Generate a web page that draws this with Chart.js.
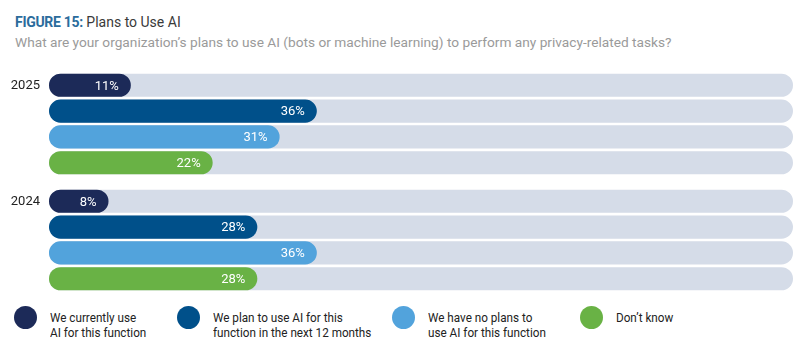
<!DOCTYPE html>
<html>
<head>
<meta charset="utf-8">
<script src="https://cdn.jsdelivr.net/npm/chart.js@4.4.1/dist/chart.umd.min.js"></script>
<style>
  html, body { margin: 0; padding: 0; background: #fff; }
  body { width: 808px; height: 363px; position: relative; overflow: hidden; font-family: Roboto, "Noto Sans", sans-serif; }
  .title { position: absolute; left: 15px; top: 15px; font-size: 14px; line-height: 14px; color: #3a3a3a; white-space: nowrap; }
  .title b { color: #2b6c9c; font-weight: 700; letter-spacing: -0.3px; }
  .sub { position: absolute; left: 15px; top: 35px; font-size: 13.7px; line-height: 14px; color: #9a9a9a; white-space: nowrap; }
  #wrap { position: absolute; left: 0; top: 66px; width: 808px; height: 232px; }
  .leg { position: absolute; top: 310px; font-size: 13px; line-height: 15px; color: #222; white-space: nowrap; transform-origin: 0 0; transform: scaleX(0.9); }
  .dot { position: absolute; top: 306px; width: 23px; height: 23px; border-radius: 50%; }
</style>
</head>
<body>
<div class="title"><b>FIGURE 15:</b> Plans to Use AI</div>
<div class="sub">What are your organization’s plans to use AI (bots or machine learning) to perform any privacy-related tasks?</div>
<div id="wrap"><canvas id="myChart"></canvas></div>
<div id="legend"></div>
<script>
const years = ['2025', '2024'];
const answers = [
  ['We currently use', 'AI for this function'],
  ['We plan to use AI for this', 'function in the next 12 months'],
  ['We have no plans to', 'use AI for this function'],
  ['Don’t know'],
];
// one array per answer, in year order
const currentlyUse = [11, 8];
const planToUse = [36, 28];
const noPlans = [31, 36];
const dontKnow = [22, 28];
const colors = ['#1c2a58', '#00508a', '#52a3dc', '#69b245'];
const trackColor = '#d5dce8';

const series = [currentlyUse, planToUse, noPlans, dontKnow];

// legend (html, two-line labels)
const legendX = [14, 177, 392, 580];
const legend = document.getElementById('legend');
answers.forEach((a, i) => {
  const d = document.createElement('div');
  d.className = 'dot';
  d.style.left = legendX[i] + 'px';
  d.style.background = colors[i];
  legend.appendChild(d);
  const t = document.createElement('div');
  t.className = 'leg';
  t.style.left = (legendX[i] + 36) + 'px';
  t.innerHTML = a.join('<br>');
  legend.appendChild(t);
});

const datasets = [];
series.forEach((s, i) => {
  datasets.push({
    label: answers[i].join(' '),
    data: s,
    backgroundColor: colors[i],
    stack: 's' + i,
  });
});
// grey tracks behind every bar
series.forEach((s, i) => {
  datasets.push({
    label: 'track' + i,
    data: years.map(() => 100),
    backgroundColor: trackColor,
    stack: 's' + i,
  });
});

// value text inside bar ends + year next to the first bar of each group
const barText = {
  id: 'barText',
  afterDatasetsDraw(chart) {
    const ctx = chart.ctx;
    ctx.save();
    ctx.textBaseline = 'middle';
    ctx.font = '13px Roboto';
    ctx.fillStyle = '#fff';
    ctx.textAlign = 'right';
    for (let i = 0; i < series.length; i++) {
      chart.getDatasetMeta(i).data.forEach((bar, j) => {
        ctx.fillText(series[i][j] + '%', bar.x - 12, bar.y + 1);
      });
    }
    ctx.fillStyle = '#222';
    chart.getDatasetMeta(0).data.forEach((bar, j) => {
      ctx.fillText(years[j], chart.chartArea.left - 9, bar.y);
    });
    ctx.restore();
  }
};

const ctx = document.getElementById('myChart').getContext('2d');
new Chart(ctx, {
  type: 'bar',
  data: { labels: years, datasets },
  plugins: [barText],
  options: {
    indexAxis: 'y',
    responsive: true,
    maintainAspectRatio: false,
    animation: false,
    layout: { padding: { left: 49, right: 15, top: 0, bottom: 0 } },
    datasets: {
      bar: {
        categoryPercentage: 0.89,
        barPercentage: 0.895,
        borderRadius: 12,
        borderSkipped: false,
      }
    },
    scales: {
      x: { stacked: false, min: 0, max: 100, display: false },
      y: { display: false },
    },
    plugins: {
      legend: { display: false },
      tooltip: { enabled: false },
    },
  },
});
</script>
</body>
</html>
